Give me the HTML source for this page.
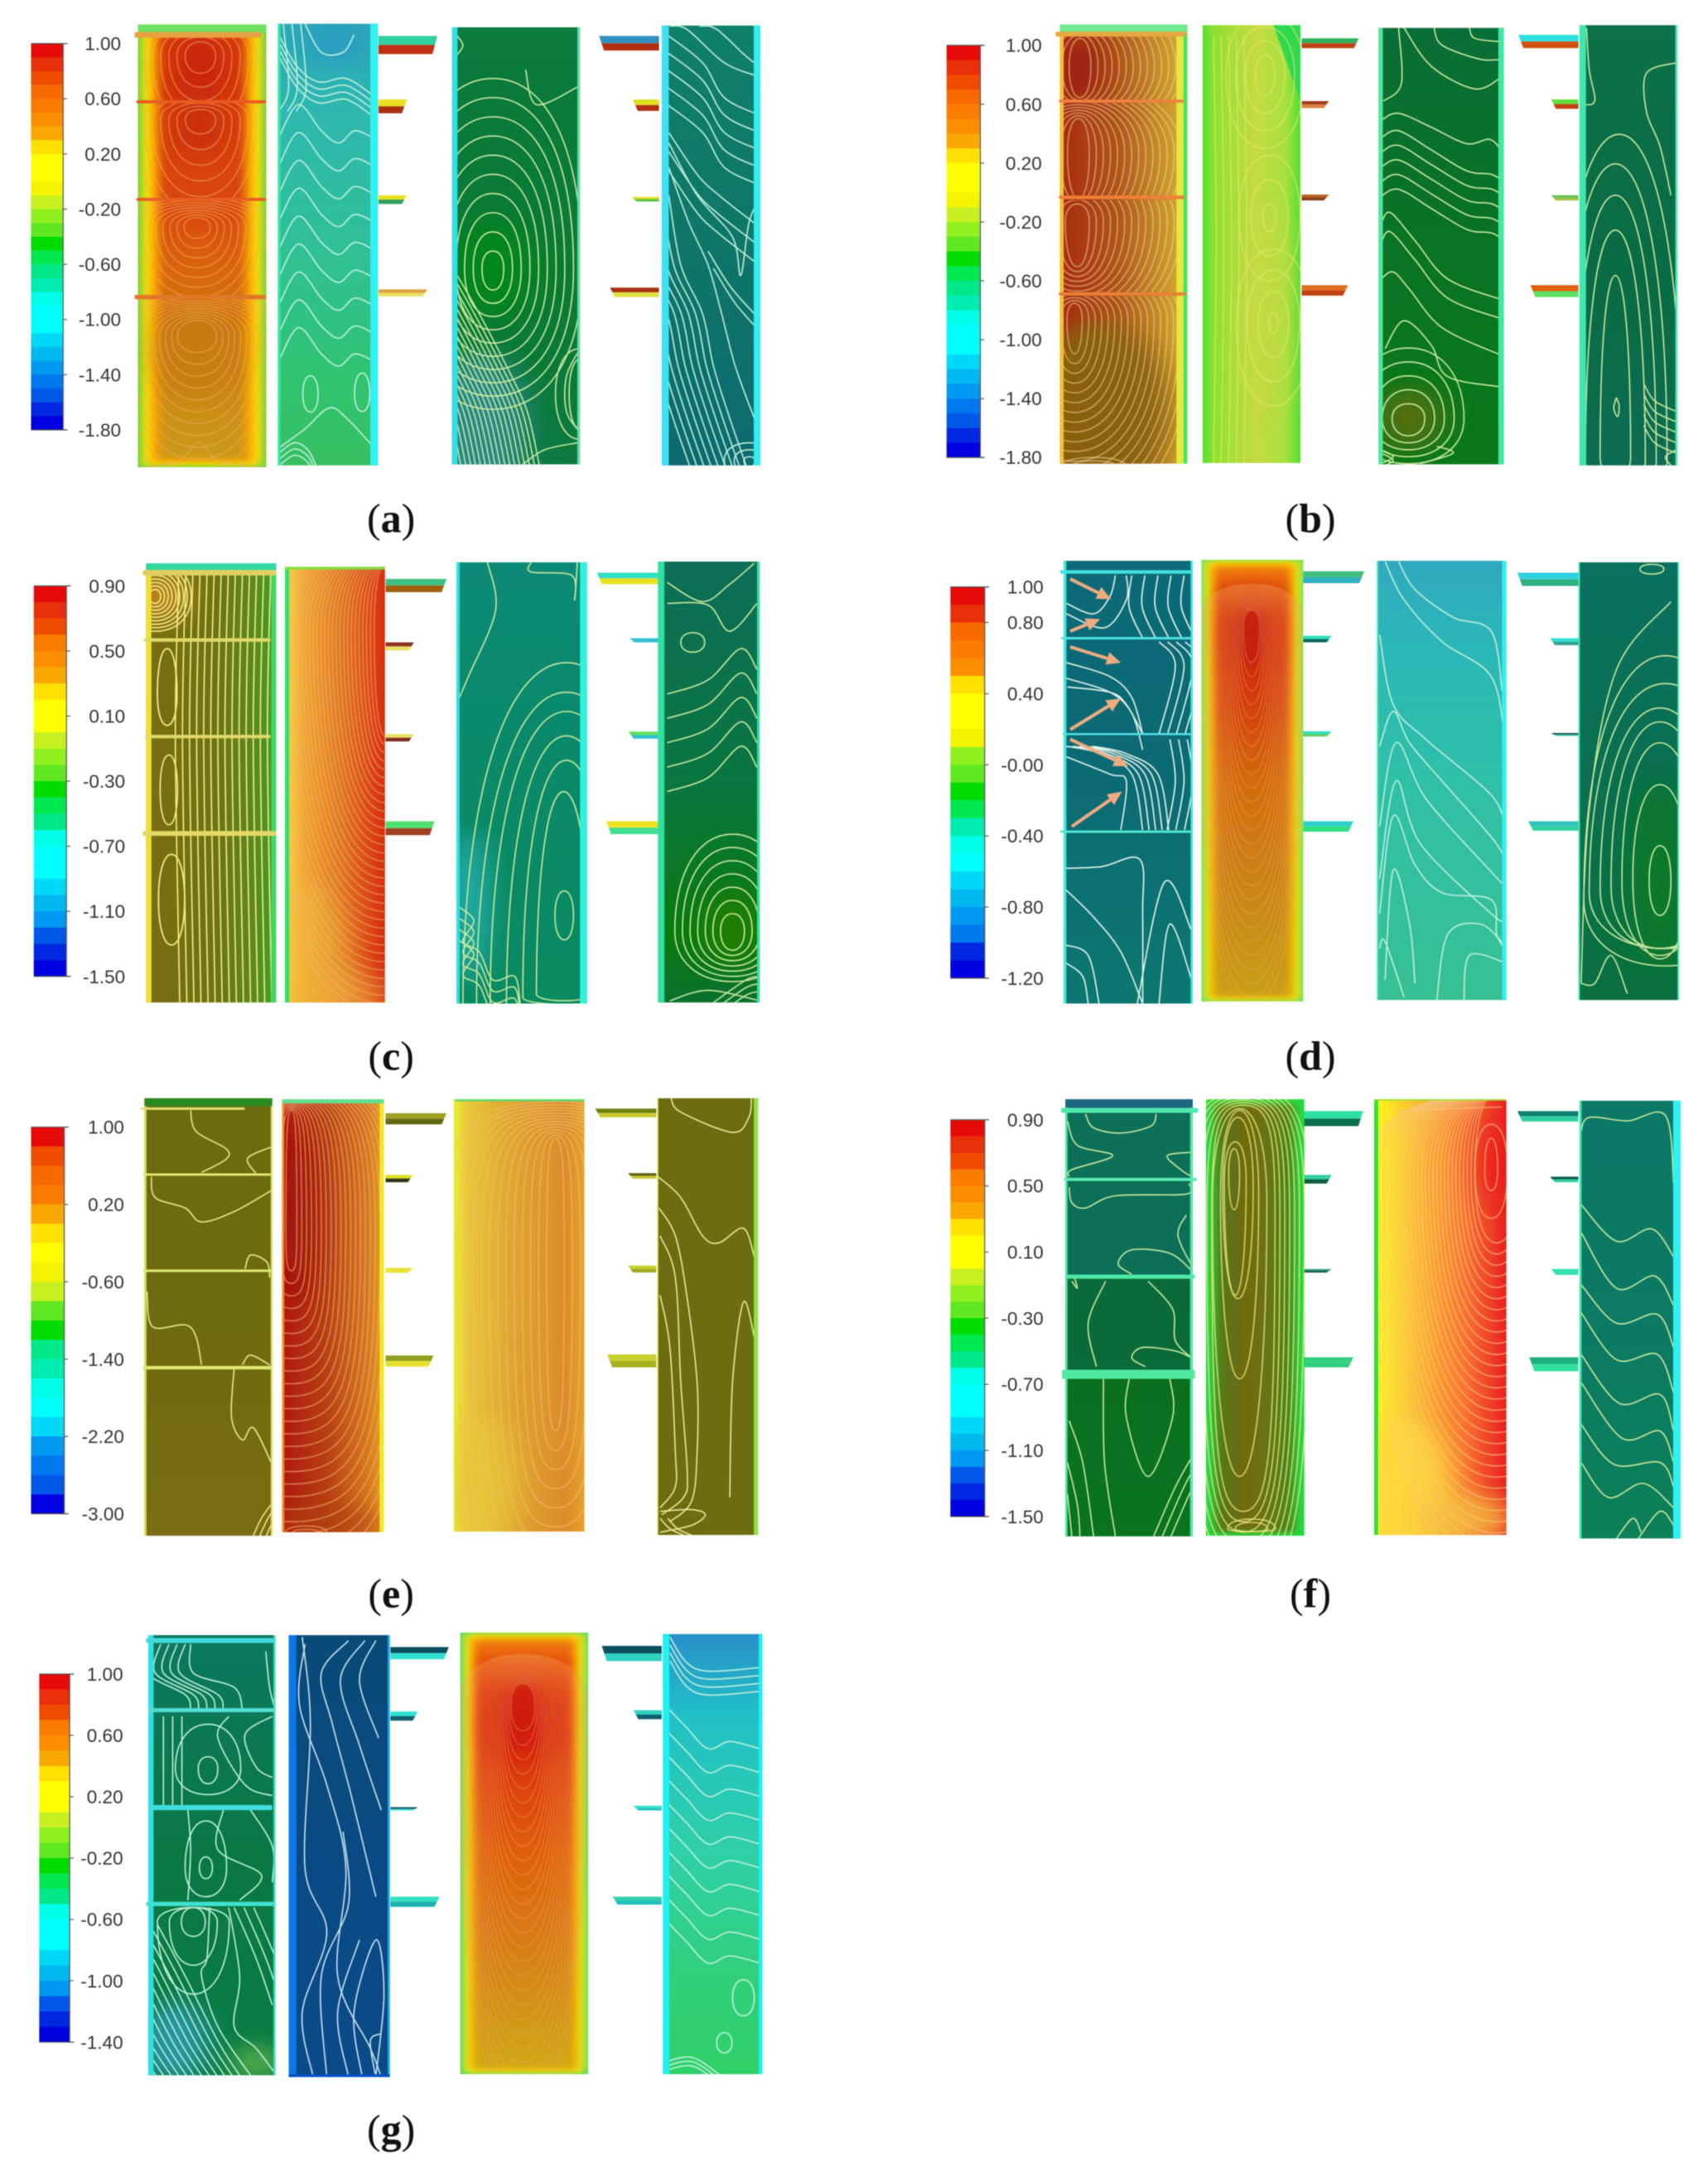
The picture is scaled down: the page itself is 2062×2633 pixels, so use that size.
<!DOCTYPE html>
<html lang="en">
<head>
<meta charset="utf-8">
<title>Contour panels</title>
<style>
html,body{margin:0;padding:0;background:#fff;}
svg{display:block;filter:blur(.5px);}
</style>
</head>
<body>
<svg id="root" xmlns="http://www.w3.org/2000/svg" width="2062" height="2633" viewBox="0 0 2062 2633">
<defs id="defs">
<filter id="blur1" x="-20%" y="-20%" width="140%" height="140%"><feGaussianBlur stdDeviation="8"/></filter>
<filter id="blur2" x="-300%" y="-150%" width="700%" height="400%"><feGaussianBlur stdDeviation="28"/></filter>
</defs>
</svg>
<script>
// Colour scale bands, top to bottom
const bandColors=['#e60a08','#e8300a','#f04c00','#f86a00','#fa7c00','#fb8e00','#f8a800','#ffe000','#ffff00','#ffff00','#f4f400','#c8f020','#90f020','#60e820','#00dc00','#00e850','#00e888','#00ecb0','#00ffe8','#00ffff','#00ffff','#00d8f8','#00b8f0','#0098f0','#0078f0','#0058e8','#0028e0','#0000e0'];
// Tick labels per sub-figure
const ticksA=['1.00','0.60','0.20','-0.20','-0.60','-1.00','-1.40','-1.80'];
const ticksB=['1.00','0.60','0.20','-0.20','-0.60','-1.00','-1.40','-1.80'];
const ticksC=['0.90','0.50','0.10','-0.30','-0.70','-1.10','-1.50'];
const ticksD=['1.00','0.80','0.40','-0.00','-0.40','-0.80','-1.20'];
const ticksE=['1.00','0.20','-0.60','-1.40','-2.20','-3.00'];
const ticksF=['0.90','0.50','0.10','-0.30','-0.70','-1.10','-1.50'];
const ticksG=['1.00','0.60','0.20','-0.20','-0.60','-1.00','-1.40'];

const SX=.6575;
const NS='http://www.w3.org/2000/svg';
const root=document.getElementById('root');
const defs=document.getElementById('defs');
let uid=0;
function mk(tag,attrs,parent){
  const e=document.createElementNS(NS,tag);
  for(const k in attrs)e.setAttribute(k,attrs[k]);
  if(parent)parent.appendChild(e);
  return e;
}
function grad(dir,stops){
  const id='g'+(uid++);
  const a={id:id,x1:0,y1:0,x2:dir==='v'?0:1,y2:dir==='h'?0:1};
  const g=mk('linearGradient',a,defs);
  stops.forEach(s=>mk('stop',{offset:s[0],'stop-color':s[1]},g));
  return 'url(#'+id+')';
}
function L(cx,cy,n,r0,dr,t0,dt,b0,db,c,k){return {L:[cx,cy,n,r0,dr,t0,dt,b0,db],c:c,k:k};}
function W(pts,dx,dy,n,c){return {W:pts,dx:dx||0,dy:dy||0,n:n||1,c:c};}
function loopPath(cx,cy,r,t,b,k){
  const f=n=>n.toFixed(1);
  return 'M'+f(cx)+' '+f(cy-t)+'C'+f(cx+r*k)+' '+f(cy-t)+' '+f(cx+r)+' '+f(cy-t*k)+' '+f(cx+r)+' '+f(cy)
   +'C'+f(cx+r)+' '+f(cy+b*k)+' '+f(cx+r*k)+' '+f(cy+b)+' '+f(cx)+' '+f(cy+b)
   +'C'+f(cx-r*k)+' '+f(cy+b)+' '+f(cx-r)+' '+f(cy+b*k)+' '+f(cx-r)+' '+f(cy)
   +'C'+f(cx-r)+' '+f(cy-t*k)+' '+f(cx-r*k)+' '+f(cy-t)+' '+f(cx)+' '+f(cy-t)+'Z';
}
function smooth(p){
  let d='M'+p[0][0]+' '+p[0][1];
  for(let i=0;i<p.length-1;i++){
    const a=p[Math.max(0,i-1)],b=p[i],c=p[i+1],e=p[Math.min(p.length-1,i+2)];
    d+='C'+(b[0]+(c[0]-a[0])/6).toFixed(1)+' '+(b[1]+(c[1]-a[1])/6).toFixed(1)+' '
      +(c[0]-(e[0]-b[0])/6).toFixed(1)+' '+(c[1]-(e[1]-b[1])/6).toFixed(1)+' '+c[0]+' '+c[1];
  }
  return d;
}
function P(x0,x1,y0,y1,o){return Object.assign({x0:x0,x1:x1,y0:y0,y1:y1},o);}

const lg='#c9e8a0',lh='#f4a85c',lc='#bdf0dc',lw='#e4f4ec',ly='#e8e880',lb='#c8e4f0';

const figs=[
{id:'a',ox:0,oy:0,sy:.4209,bar:[57,116,125,1233],n:28,ticks:ticksA,end:222,cap:[718,1526],
 panels:[
 P(253,489,70,1340,{fr:[[0,'#60d040'],[8,'#ffe800'],[24,'#f8a000']],ins:40,bg:['v',[0,'#d83a10'],[.4,'#d8460f'],[.55,'#da6410'],[.75,'#cf8012'],[1,'#c89a18']],lo:.55,
  bl:[[368,190,50,100,'#c82010',.9],[365,350,45,100,'#c62a10',.8],[362,1000,80,140,'#bf7a10',.6]],lc:lh,top:[96,'#70e060'],
  bd:[[100,16,'#e8a040',247,480],[292,9,'#e85a20',250,489],[572,9,'#e86020',250,489],[852,13,'#e07828',247,489]],
  F:[L(368,160,7,28,15,40,14,50,40,[108,288],.6),L(368,342,8,28,15,28,9,42,45,[296,568],.6),L(362,650,10,24,13,26,7,34,28,[576,848],.6),L(362,965,15,36,11,46,7,46,34,[858,1340],.6),W([[270,1340],[330,1320],[365,1270],[400,1320],[470,1340]],0,18,1)]}),
 P(510,694,68,1335,{bg:['v',[0,'#2ca8b8'],[.2,'#2eb8b0'],[.5,'#30c098'],[.8,'#30c470'],[1,'#38c060']],ed:[['r',14,'#30f0f0'],['l',5,'#30e8a0']],
  bl:[[620,130,60,60,'#2c98c8',.7]],lc:lc,
  F:[W([[512,100],[545,190],[585,235],[635,225],[682,270]],0,20,4),W([[560,68],[590,150],[630,150],[650,100]],0,0,1),W([[512,395],[548,300],[590,375],[622,410],[652,375],[690,400]],0,80,9),W([[520,68],[530,250],[512,320]],16,0,3),L(570,1130,1,14,0,52,0,52,0),L(665,1130,1,14,0,60,0,50,0),W([[512,1285],[560,1230],[605,1170],[640,1205],[690,1290]]),W([[512,1300],[540,1270],[565,1290],[580,1335]],0,18,3)]}),
 P(830,1065,78,1332,{bg:['v',[0,'#0a7a3e'],[.6,'#0a7a34'],[1,'#0c7a40']],bl:[[905,770,70,140,'#068a18',.8],[880,1230,90,220,'#2a8a90',.9]],ed:[['l',10,'#30e0e8'],['r',5,'#60e0a0']],lc:lg,
  F:[L(905,770,10,20,16,50,55,62,38,null,.62),W([[965,200],[985,300],[1060,250]]),W([[832,770],[880,900],[930,1050],[968,1180],[990,1332]],-9,0,18),W([[1065,1000],[1040,1080],[1040,1180],[1065,1240]],0,0,1),L(1065,1130,2,20,25,100,30,100,30),W([[838,100],[850,130],[838,160]]),W([[960,1332],[1000,1290],[1060,1270]],0,0,1)]}),
 P(1215,1396,73,1335,{bg:['v',[0,'#10806a'],[.5,'#0f7668'],[1,'#0c6a70']],ed:[['l',13,'#40e0f4'],['r',12,'#30f0f0']],lc:lc,
  F:[W([[1225,100],[1290,180],[1330,280],[1394,330]],0,50,5),W([[1230,75],[1262,85],[1330,180],[1394,220]],55,0,2),W([[1228,380],[1280,500],[1320,560],[1385,640]],0,55,3),W([[1228,410],[1280,560],[1345,680],[1360,790],[1375,640],[1394,570]],0,0,1),W([[1228,480],[1265,640],[1300,760],[1325,900],[1350,1050],[1385,1200]],0,0,1),W([[1228,560],[1250,760],[1290,900],[1310,1050],[1340,1200],[1370,1335]],-13,0,9),W([[1300,720],[1340,820],[1385,900]],10,50,2),L(1376,1320,3,10,18,10,20,20,20)]})
 ],
 fins:[[695,108,103,155,'#30d0a0','#c03010'],[695,52,285,325,'#e8e020','#a83010'],[695,52,560,585,'#e8e020','#30a060'],[695,90,830,850,'#e0a040','#e8e060'],[1210,-110,103,145,'#3090c0','#b03010'],[1210,-48,285,318,'#e0e020','#b03010'],[1210,-50,565,578,'#e0e020','#50c040'],[1210,-90,825,852,'#a83010','#e0e040']]},
{id:'b',ox:1031,oy:0,sy:.4209,bar:[170,232,130,1312],n:28,ticks:ticksB,end:345,cap:[838,1526],
 panels:[
 P(378,612,70,1330,{bg:['h',[0,'#a82a10'],[.45,'#b0541a'],[.8,'#c89028'],[1,'#d8b030']],ed:[['l',7,'#f8c030'],['r',20,'#e4e840'],['r',7,'#40e860']],bl:[[450,1180,130,260,'#886410',.95],[420,200,30,90,'#981408',.8]],lc:'#f0d8a0',lo:.55,top:[94,'#70e890'],
  bd:[[98,14,'#e8a840',370,610],[290,9,'#f08040',376,606],[566,10,'#f08038',376,608],[843,10,'#e88038',376,610]],
  F:[L(415,190,14,20,13,80,10,90,8,[105,285],.6),L(412,440,14,20,13,100,8,130,12,[296,560],.6),L(410,635,14,22,13,50,12,130,14,[574,838],.6),L(405,915,18,14,12,45,8,100,28,[850,1330],.6),L(440,1340,3,25,18,8,10,8,0)]}),
 P(640,820,72,1328,{bg:['h',[0,'#50e030'],[.12,'#90e030'],[.55,'#c4dc40'],[.85,'#a8e040'],[1,'#50e030']],lc:'#e8e870',lo:.6,
  bl:[[760,900,40,300,'#c8d840',.6]],wedge:[[770,72],[820,72],[820,290]],
  F:[L(755,215,4,18,18,58,40,60,50),L(763,620,3,12,22,35,70,45,70),L(770,925,4,8,20,30,60,30,70),W([[660,100],[665,700],[660,1328]],14,0,5)]}),
 P(963,1193,80,1332,{bg:['v',[0,'#0a6e38'],[.4,'#0a7228'],[1,'#0a7a18']],bl:[[1020,1200,60,90,'#5a7010',.9]],ed:[['l',8,'#50e8a0'],['r',10,'#40e8a0']],lc:lg,
  F:[W([[968,345],[1000,325],[1060,365],[1125,412],[1168,400],[1192,440]],0,0,1),W([[968,395],[1000,375],[1060,430],[1125,490],[1170,500],[1192,520]],0,42,5),W([[968,640],[985,610],[1030,690],[1090,800],[1190,860]],0,55,2),W([[968,800],[990,780],[1020,830],[1080,940],[1190,1020]],0,0,1),W([[975,1000],[1010,920],[1060,990],[1090,1080],[1190,1110]],0,0,1),L(1018,1200,5,30,18,42,40,50,20),W([[1065,80],[1080,130],[1150,170],[1190,170]]),W([[1130,80],[1140,110],[1190,120]]),W([[1010,80],[1060,190],[1140,255],[1190,220]]),W([[972,290],[1005,240],[1000,80]]),W([[968,1290],[990,1310],[968,1330]],0,10,2),W([[1040,1330],[1100,1300],[1070,1280]])]}),
 P(1332,1512,72,1335,{bg:['v',[0,'#0c7048'],[.6,'#0a6c44'],[1,'#0c6c54']],ed:[['l',12,'#40e8b0'],['r',4,'#40e8b0']],lc:lg,
  F:[L(1398,1310,1,28,0,520,0,60,0),L(1398,1330,1,55,0,670,0,20,0),L(1398,1330,1,75,0,770,0,20,0),L(1398,1330,1,95,0,860,0,20,0),L(1405,1330,1,115,0,945,0,20,0),W([[1345,80],[1350,200],[1360,290],[1335,300]]),W([[1510,180],[1455,210],[1455,320],[1480,420],[1500,560]]),W([[1400,1140],[1395,1170],[1402,1195],[1405,1165],[1400,1140]]),W([[1450,1100],[1470,1150],[1510,1180]],0,30,5),W([[1510,1290],[1490,1310],[1500,1335]])]})
 ],
 fins:[[822,105,110,138,'#30b060','#c04010'],[822,50,290,310,'#a04020','#e08040'],[822,50,558,575,'#b86020','#8a4020'],[822,85,818,848,'#e07020','#c04010'],[1330,-110,100,138,'#30e0e0','#d05010'],[1330,-50,285,312,'#60e040','#c04010'],[1330,-50,560,575,'#60c050','#a0c040'],[1330,-88,818,852,'#e06010','#60e060']]},
{id:'c',ox:0,oy:640,sy:.4209,bar:[62,122,160,1280],n:24,ticks:ticksC,end:230,cap:[718,1548],
 panels:[
 P(268,507,95,1355,{bg:['h',[0,'#7a6c10'],[.55,'#6e7412'],[.85,'#5a8a20'],[1,'#40a030']],ed:[['l',10,'#f0e030'],['r',9,'#40d860']],bl:[[300,190,40,70,'#d08a20',.9]],lc:'#f4ee88',top:[114,'#30d8a0'],
  bd:[[122,16,'#e0d060',262,507],[315,10,'#e0d868',264,497],[592,10,'#e0d868',266,497],[870,14,'#e4d868',262,507]],
  F:[W([[328,128],[322,600],[330,1355]],13,0,14),L(307,470,2,18,0,130,0,90,0,[320,590]),L(310,745,1,16,0,100,0,100,0),L(315,1060,2,24,0,130,0,130,0,[878,1355]),L(285,190,9,10,7,20,10,20,10,[130,310])]}),
 P(523,707,105,1355,{bg:['h',[0,'#ffd840'],[.18,'#f0a830'],[.6,'#e07020'],[1,'#d82c10']],ed:[['l',8,'#30e070'],['t',8,'#80e040']],bl:[[560,1250,80,240,'#f0c040',.5],[640,1350,70,90,'#f0b040',.5]],lc:'#f4b878',lo:.5,
  F:[L(707,290,34,20,7,190,4,300,24,null,.62)]}),
 P(838,1078,92,1358,{bg:['v',[0,'#0c8a78'],[.5,'#0a8a68'],[1,'#0a8a60']],bl:[[862,1080,30,220,'#2ab4b8',.95]],ed:[['l',6,'#30e0e0'],['r',13,'#30f0e0']],lc:lg,
  F:[L(1036,1105,1,17,0,70,0,70,0),L(1035,1330,1,50,0,580,0,20,0),L(1040,1340,1,80,0,680,0,20,0),L(1040,1360,1,110,0,770,0,20,0),L(1040,1360,1,140,0,840,0,20,0),L(1040,1360,1,165,0,895,0,20,0),L(1040,1360,1,190,0,980,0,20,0),W([[1060,92],[1055,200],[1050,130],[975,120],[975,92]]),W([[895,92],[910,230],[860,420],[838,500]]),W([[842,1080],[870,1120],[850,1180],[880,1210],[905,1290],[945,1280],[955,1358]],0,32,4)]}),
 P(1208,1395,90,1355,{bg:['v',[0,'#0c6e58'],[.5,'#0a7640'],[.85,'#0a7a10'],[1,'#0a7030']],bl:[[1345,1140,50,110,'#208000',.9]],ed:[['l',12,'#30e0a0'],['r',5,'#30e0a0']],lc:lg,
  F:[L(1345,1150,7,22,14,50,38,55,15),L(1272,322,1,22,0,28,0,28,0),W([[1225,150],[1290,205],[1340,155],[1385,95]]),W([[1225,210],[1300,215],[1340,290],[1390,210]]),W([[1225,470],[1300,430],[1360,340],[1390,400]],0,70,5),W([[1230,1350],[1300,1320],[1395,1350]]),W([[1310,1355],[1370,1290],[1395,1280]],0,22,3)]})
 ],
 fins:[[708,112,140,178,'#40c080','#a06010'],[708,52,322,345,'#903020','#e8e060'],[708,52,585,606,'#e8e060','#803020'],[708,90,835,875,'#50e070','#a04020'],[1208,-112,122,155,'#30e0c0','#e8e020'],[1208,-52,310,322,'#30c0d0','#30c0d0'],[1208,-54,578,598,'#60e060','#30c0d0'],[1208,-95,835,872,'#f0e020','#40e090']]},
{id:'d',ox:1031,oy:640,sy:.4209,bar:[177,240,163,1285],n:22,ticks:ticksD,end:348,cap:[838,1548],
 panels:[
 P(385,622,88,1358,{bg:['v',[0,'#0c6a78'],[.5,'#0c6a74'],[1,'#0c7870']],ed:[['l',5,'#40e8e0'],['r',4,'#40e8e0']],lc:lw,
  bd:[[120,10,'#40e0e0',378,622],[310,7,'#50e0e0',380,622],[585,6,'#50e0e0',382,622],[865,7,'#50e8d0',378,622]],
  F:[W([[510,130],[505,220],[530,310]],24,0,5),W([[390,210],[440,240],[470,190],[480,130]],0,0,1),W([[390,240],[460,280],[500,200],[500,130]]),W([[390,380],[470,420],[510,480],[530,585]],0,45,2),W([[560,320],[590,390],[560,585]],16,0,4),W([[392,450],[470,465],[500,500],[530,585]]),W([[390,620],[450,640],[510,700],[530,860]],12,0,5),W([[390,650],[470,700],[500,720],[490,860]]),W([[580,600],[590,720],[575,860]],16,0,3),W([[388,970],[455,965],[525,945],[530,1100],[530,1358]]),W([[388,1030],[440,1110],[490,1210],[530,1358]]),W([[520,1358],[570,1010],[620,1150]]),W([[560,1358],[580,1130],[622,1300]]),W([[388,1190],[430,1220],[450,1358]]),W([[388,1240],[420,1280],[430,1358]])],
  arrows:[[397,140,472,198],[397,290,452,255],[397,335,490,380],[397,572,490,483],[397,600,503,677],[400,850,492,750]]}),
 P(638,825,85,1352,{fr:[[0,'#60e060'],[6,'#e8f020'],[14,'#f8c000']],ins:24,bg:['v',[0,'#f08010'],[.05,'#e45010'],[.14,'#d83010'],[.3,'#d43a10'],[.5,'#d46a10'],[.8,'#c88a14'],[1,'#c8a014']],bl:[[730,290,36,120,'#c01810',.9]],lc:lh,lo:.35,
  F:[L(730,280,26,15,3.4,50,3,100,40,null,.62)]}),
 P(960,1198,88,1348,{bg:['v',[0,'#30a8c0'],[.2,'#2cb8b8'],[.5,'#30c0a8'],[1,'#38c094']],ed:[['r',8,'#30f0f0'],['l',3,'#40e8c0']],lc:lc,
  F:[W([[1000,90],[1030,170],[1100,250],[1170,290],[1190,460]],0,0,1),W([[975,90],[1010,200],[1080,320],[1170,420],[1195,600]],0,0,1),W([[965,300],[990,500],[1050,600],[1170,760],[1195,850]],0,0,1),W([[965,620],[990,520],[1020,610],[1080,720],[1170,880],[1195,940]]),W([[965,850],[995,610],[1050,770],[1170,980],[1195,1020]],0,0,1),W([[965,1000],[995,720],[1040,900],[1170,1100],[1195,1120]]),W([[965,1100],[990,820],[1030,960],[1080,1040],[1170,1060],[1180,1160],[1195,1200]]),W([[975,1290],[990,975],[1020,1130],[1030,1300]]),W([[965,1200],[975,1180],[1010,1340]]),W([[1070,1348],[1090,1160],[1150,1130],[1195,1190]]),W([[1120,1348],[1130,1220],[1195,1240]])]}),
 P(1330,1515,92,1348,{bg:['v',[0,'#0a7060'],[.5,'#0a7050'],[1,'#0a7040']],bl:[[1475,1000,50,280,'#0a7a28',.9]],ed:[['l',3,'#40e8b0'],['r',3,'#40e8b0']],lc:lg,
  F:[L(1480,1005,1,20,0,100,0,100,0),L(1480,1000,1,50,0,270,0,230,0),L(1480,1010,1,70,0,400,0,210,0),L(1480,1020,1,90,0,470,0,180,0),L(1480,1030,1,110,0,520,0,170,0),L(1490,1040,1,140,0,600,0,160,0),L(1490,1060,1,150,0,700,0,190,0),W([[1335,1300],[1350,800],[1400,400],[1500,205]]),W([[1335,1300],[1360,1300],[1390,1220],[1420,1330]]),L(1465,112,1,22,0,14,0,14,0)]})
 ],
 fins:[[825,112,118,152,'#40c080','#30b0c0'],[825,52,303,322,'#30e0c0','#106860'],[825,52,577,592,'#30e0c0','#60d060'],[825,92,835,865,'#30d0d0','#30e080'],[1330,-112,122,160,'#30d0e0','#30b080'],[1330,-52,310,330,'#30e0d0','#30a090'],[1330,-50,582,590,'#104040','#30c0a0'],[1330,-92,835,862,'#30c0c0','#30d0a0']]},
{id:'e',ox:0,oy:1290,sy:.4209,bar:[57,118,168,1277],n:20,ticks:ticksE,end:228,cap:[718,1545],
 panels:[
 P(265,500,85,1340,{bg:['v',[0,'#6c6c10'],[.5,'#6e6a10'],[1,'#7a6c14']],ed:[['l',4,'#d8e040'],['r',3,'#d8e040']],lc:'#e8e890',top:[108,'#2a8a20'],
  bd:[[115,7,'#e0e070',258,450],[304,7,'#dce870',262,500],[580,7,'#dce870',262,500],[858,10,'#dce870',262,500]],
  F:[W([[350,120],[360,180],[415,230],[415,260],[370,298]]),W([[498,225],[460,250],[455,270],[470,300]]),W([[278,310],[285,370],[340,400],[370,440],[430,410],[498,350]]),W([[450,575],[460,535],[490,555],[495,600]]),W([[270,640],[280,740],[340,735],[360,770],[370,850]]),W([[430,860],[425,1000],[445,1065],[465,1030],[498,1130]]),W([[445,850],[460,822],[495,850]]),W([[465,1340],[480,1290],[498,1250]],12,0,3)]}),
 P(518,705,88,1330,{bg:['h',[0,'#b01810'],[.45,'#b84014'],[.85,'#d87a20'],[1,'#e8a020']],ed:[['r',8,'#f0e828'],['l',4,'#f89020'],['t',12,'#60e090']],bl:[[545,420,25,260,'#981008',.8],[600,1300,100,50,'#b04010',.7]],lc:'#f0b070',lo:.6,
  F:[L(535,460,24,10,9,340,4,120,36,null,.8),L(562,1330,2,24,14,8,10,8,0)]}),
 P(833,1073,88,1328,{bg:['h',[0,'#ecf030'],[.1,'#e8c838'],[.45,'#e0a430'],[.85,'#dc8c2c'],[1,'#e8a028']],ed:[['t',6,'#60d870'],['l',3,'#d8f040']],lc:'#f0c070',lo:.6,bl:[[880,1200,70,200,'#e8c838',.7]],
  F:[L(1020,540,14,16,15,340,8,500,55,null,.8)]}),
 P(1207,1392,85,1338,{bg:['v',[0,'#6c6c10'],[1,'#6c6c10']],ed:[['r',8,'#90e040'],['l',2,'#d8e040']],lc:'#e8e8a0',
  F:[W([[1232,85],[1250,125],[1345,183],[1375,140],[1380,85]]),W([[1208,310],[1250,370],[1290,480],[1320,500],[1365,458],[1385,540]]),W([[1210,400],[1240,480],[1260,640],[1280,900],[1280,1100],[1270,1240],[1230,1300]]),W([[1212,480],[1240,600],[1250,900],[1262,1160],[1255,1230],[1215,1280]]),W([[1212,650],[1230,800],[1240,1100],[1240,1200],[1212,1260]]),W([[1340,1230],[1345,900],[1365,670],[1385,770]]),W([[1212,1270],[1270,1265],[1295,1280],[1270,1310],[1212,1330]]),W([[1212,1290],[1230,1320],[1255,1338]],14,0,2)]})
 ],
 fins:[[708,112,128,160,'#a0a020','#606810'],[708,50,305,326,'#e0e020','#303810'],[708,50,572,586,'#e8e030','#e8e030'],[708,88,823,855,'#90a020','#e8e030'],[1205,-112,115,140,'#708010','#c8c830'],[1205,-52,300,316,'#606810','#c8c830'],[1205,-52,565,585,'#c8d030','#a0a820'],[1205,-90,820,857,'#c8d030','#a8b020']]},
{id:'f',ox:1031,oy:1290,sy:.4209,bar:[177,240,147,1285],n:24,ticks:ticksF,end:348,cap:[838,1545],
 panels:[
 P(388,622,88,1342,{bg:['v',[0,'#0c7058'],[.4,'#0c7058'],[.41,'#0a6a3c'],[.62,'#0a6c38'],[.63,'#0a7020'],[1,'#0a7420']],ed:[['l',4,'#50e8a0'],['r',5,'#50e8a0']],lc:lg,top:[112,'#1a6880'],
  bd:[[120,14,'#50e8b0',380,632],[318,9,'#60e8b8',385,630],[597,12,'#50e8a8',388,626],[877,26,'#50e8a0',382,626]],
  F:[W([[425,130],[440,170],[490,185],[545,165],[555,130]]),W([[392,150],[410,220],[475,250],[400,290],[395,310]]),W([[620,240],[575,250],[600,290],[620,310]]),W([[395,340],[400,385],[425,400],[480,365],[610,360],[615,330]]),W([[620,580],[580,530],[510,520],[485,560],[510,590]]),W([[610,420],[595,480],[625,580]]),W([[400,610],[410,630],[405,600]]),W([[462,610],[430,730],[445,855]]),W([[540,610],[585,690],[590,780],[620,830]]),W([[620,830],[590,810],[530,800],[510,830],[535,855]]),W([[505,890],[500,1000],[540,1170],[585,1000],[580,890]]),W([[458,890],[460,1130],[480,1342]]),W([[395,1010],[420,1130],[440,1342]]),W([[392,1130],[410,1250],[415,1342]]),W([[392,1220],[400,1342]]),W([[550,1342],[590,1200],[622,1110]],16,0,3)]}),
 P(646,827,88,1340,{fr:[[0,'#20e040'],[8,'#30d040']],ins:18,bg:['h',[0,'#507a18'],[.35,'#706a10'],[.6,'#6e7012'],[1,'#408a20']],lc:ly,lo:.8,
  F:[L(698,300,1,10,0,70,0,105,0),L(700,320,1,20,0,110,0,330,0),L(705,340,1,28,0,200,0,320,0),L(708,360,1,35,0,240,0,530,0),L(708,380,1,50,0,265,0,790,0),L(715,420,8,58,9,315,7,850,30,null,.8),L(730,1320,2,30,14,18,10,8,0)]}),
 P(955,1198,88,1338,{bg:['h',[0,'#70f030'],[.05,'#fff020'],[.3,'#fcc030'],[.7,'#f87030'],[1,'#e82020']],ed:[['l',7,'#30e030'],['t',4,'#a0e030']],bl:[[1000,1220,100,220,'#ffd840',.85],[1120,1290,90,70,'#f4c040',.8],[1170,270,22,130,'#e81818',.9]],lc:'#f8c880',lo:.6,
  F:[L(1170,290,2,12,18,90,40,60,80,null,.62),L(1180,300,30,40,7,230,0,200,32,null,.62),W([[990,120],[1190,110]],0,0,1)]}),
 P(1332,1518,92,1348,{bg:['v',[0,'#0c7868'],[.5,'#0c7a64'],[1,'#0c8058']],ed:[['r',14,'#30f0f0'],['l',4,'#40e8b0']],lc:lg,
  F:[W([[1335,180],[1350,140],[1420,150],[1490,135],[1505,330]]),W([[1335,390],[1400,495],[1465,460],[1505,540]]),W([[1335,470],[1400,630],[1470,595],[1505,680]]),W([[1335,620],[1400,730],[1475,705],[1505,800]]),W([[1335,700],[1400,835],[1475,820],[1505,930]]),W([[1335,820],[1405,960],[1480,935],[1505,1040]]),W([[1335,900],[1410,1060],[1480,1040],[1505,1130]]),W([[1335,1020],[1395,1135],[1480,1130],[1505,1200]]),W([[1335,1130],[1385,1230],[1450,1190],[1505,1260]]),W([[1400,1348],[1430,1290],[1445,1330]]),W([[1440,1348],[1480,1270],[1505,1310]])]})
 ],
 fins:[[825,110,122,165,'#30e0a0','#0c7050'],[825,52,305,330,'#30d0a0','#0c6040'],[825,52,575,585,'#30a080','#0c5040'],[825,92,828,857,'#30d080','#30d080'],[1330,-112,122,152,'#108070','#30d0a0'],[1330,-52,310,326,'#0c6050','#30d0a0'],[1330,-50,575,592,'#30e0b0','#30e0b0'],[1330,-90,828,868,'#20b080','#30e0a0']]},
{id:'g',ox:0,oy:1950,sy:.4356,bar:[72,128,163,1183],n:24,ticks:ticksG,end:226,cap:[718,1464],
 panels:[
 P(272,506,55,1275,{bg:['v',[0,'#0c7860'],[.5,'#0a7844'],[1,'#0a7c44']],ed:[['l',10,'#30e0e0'],['r',4,'#40e0c0']],bl:[[320,1180,60,110,'#2a9ab0',.9],[470,1240,40,50,'#70c050',.8]],lc:lc,
  bd:[[70,14,'#40d8d8',268,506],[263,11,'#50e0d0',272,505],[533,14,'#40e0e0',272,500],[800,12,'#40e0d0',268,506]],
  F:[L(382,425,2,18,42,33,90,42,30,[270,528]),W([[350,80],[355,160],[430,200],[445,260]],0,0,1),W([[340,80],[330,160],[400,220],[410,260]],-15,0,5),W([[488,100],[495,200],[505,260]]),W([[300,280],[300,530]],17,0,3),W([[420,280],[400,340],[450,470],[500,500]]),W([[500,280],[450,330],[470,420],[500,450]]),L(378,700,2,12,26,30,100,30,50,[540,795]),W([[345,540],[350,650],[345,790]]),W([[410,540],[400,650],[480,720],[440,790]]),W([[460,540],[500,640],[500,740]]),L(355,850,3,22,22,40,0,40,80,[808,1275]),W([[385,810],[380,950],[370,1000],[400,1140],[460,1275]]),W([[290,860],[340,1000],[400,1180],[440,1275]],-14,0,18),W([[430,810],[470,950],[500,1080]],18,0,3),W([[420,810],[440,1000],[430,1140],[470,1200],[505,1270]],0,0,1)]}),
 P(530,716,55,1280,{bg:['v',[0,'#0a4a78'],[.5,'#0a4a84'],[1,'#0a4a88']],ed:[['l',14,'#0a78e8'],['r',4,'#20b0f0'],['b',8,'#0850c8']],lc:lb,
  F:[W([[560,80],[550,250],[600,470],[635,700],[620,1000],[680,1200],[700,1280]]),W([[640,70],[590,160],[610,300],[645,500],[690,780]]),W([[670,70],[625,180],[660,360],[700,540]]),W([[690,70],[660,180],[695,340]]),W([[575,1280],[555,1100],[600,880],[560,700],[570,300],[555,60]],20,0,1),W([[600,1280],[590,1000],[640,800],[630,600]]),W([[640,1280],[620,1100],[660,900]]),W([[665,1280],[650,1100],[690,900],[705,1050],[690,1280]]),W([[690,1280],[680,1180],[700,1160]])]}),
 P(845,1080,48,1272,{fr:[[0,'#50d860'],[7,'#ecf020'],[16,'#f8c000']],ins:26,bg:['v',[0,'#f08010'],[.05,'#e85010'],[.14,'#e03010'],[.22,'#dc2810'],[.5,'#e06010'],[.8,'#d48a14'],[1,'#d0a818']],bl:[[960,270,45,120,'#cc1810',.9]],lc:lh,lo:.35,
  F:[L(960,250,28,22,3.6,60,3,70,40,null,.62)]}),
 P(1217,1400,52,1272,{bg:['v',[0,'#2a90c8'],[.18,'#20c0c8'],[.5,'#30d0a8'],[.8,'#30d078'],[1,'#30d068']],ed:[['l',12,'#20f0f0'],['r',7,'#20f0f0']],lc:lc,
  F:[W([[1230,60],[1260,130],[1300,155],[1395,145]],0,22,4),W([[1228,260],[1260,310],[1300,370],[1340,350],[1395,370]],0,66,10),L(1365,1060,1,20,0,50,0,50,0),L(1330,1185,1,14,0,28,0,28,0),W([[1217,1240],[1270,1225],[1320,1272]],0,12,3)]})
 ],
 fins:[[717,107,88,122,'#0c5060','#30e0d0'],[717,50,267,292,'#30e0d0','#106070'],[717,50,532,541,'#0c4060','#30e0d0'],[717,90,780,808,'#30e0c0','#20b0b0'],[1215,-110,85,127,'#0c5060','#30d0c0'],[1215,-52,263,288,'#30d0c0','#106070'],[1215,-52,528,541,'#30e0d0','#20c0c0'],[1215,-90,780,802,'#30d0b0','#20c0c0']]}
];

function addClip(x,y,w,h){
  const id='c'+(uid++);
  const cp=mk('clipPath',{id:id},defs);
  mk('rect',{x:x,y:y,width:w,height:h},cp);
  return 'url(#'+id+')';
}

function drawColorbar(f,sx){
  const b=f.bar,x0=b[0],x1=b[1],y0=b[2],y1=b[3];
  const g=mk('g',{transform:'translate('+f.ox+' '+f.oy+') scale('+sx+' '+f.sy+')'},root);
  
  
  const n=f.n,h=(y1-y0)/n;
  for(let i=0;i<n;i++){
    const band=mk('rect',{x:x0,y:(y0+i*h).toFixed(2),width:x1-x0,height:(h+.6).toFixed(2),fill:bandColors[Math.floor((i+.5)/n*bandColors.length)]},g);
    
    
  }
  const vals=f.ticks.map(parseFloat);
  const vmax=vals[0],vmin=vals[vals.length-1];
  const yAxis=v=>y1-(v-vmin)/(vmax-vmin)*(y1-y0);
  mk('path',{d:'M'+x0+' '+y0+'H'+(x1+8)+'M'+x0+' '+y1+'H'+(x1+8)+'M'+x1+' '+y0+'V'+y1,stroke:'#555',fill:'none','stroke-width':1.2,'vector-effect':'non-scaling-stroke'},g);
  f.ticks.forEach((lab,i)=>{
    const yz=yAxis(vals[i]);
    mk('path',{d:'M'+x1+' '+yz+'H'+(x1+7),stroke:'#555','stroke-width':1.2,'vector-effect':'non-scaling-stroke'},g);
    const t=mk('text',{x:(f.ox+f.end*sx).toFixed(1),y:(f.oy+yz*f.sy+8).toFixed(1),'text-anchor':'end','font-family':'"Liberation Sans",sans-serif','font-size':'22.5',fill:'#333'},root);
    
    
    t.textContent=lab;
  });
}

function drawPanel(g,p,f,idx){
  const pg=mk('g',{},g);
  
  
  const w=p.x1-p.x0,h=p.y1-p.y0;
  const inner=mk('g',{'clip-path':addClip(p.x0,p.y0,w,h)},pg);
  const fill=grad(p.bg[0],p.bg.slice(1));
  if(p.fr){
    p.fr.forEach((fr,i)=>{
      const ins=fr[0];
      const a={x:p.x0+ins,y:p.y0+ins*.6,width:w-2*ins,height:h-ins*1.2,fill:fr[1]};
      if(i>0)a.filter='url(#blur1)';
      mk('rect',a,inner);
    });
    mk('rect',{x:p.x0+p.ins,y:p.y0+p.ins*.8,width:w-2*p.ins,height:h-p.ins*1.4,fill:fill,filter:'url(#blur1)'},inner);
  }else{
    mk('rect',{x:p.x0,y:p.y0,width:w,height:h,fill:fill},inner);
  }
  (p.bl||[]).forEach(b=>{
    mk('ellipse',{cx:b[0],cy:b[1],rx:b[2],ry:b[3],fill:b[4],opacity:b[5],filter:'url(#blur2)'},inner);
  });
  if(p.wedge)mk('polygon',{points:p.wedge.map(q=>q.join(',')).join(' '),fill:'#30d850'},inner);
  (p.F||[]).forEach(fam=>{
    let parent=inner;
    if(fam.c)parent=mk('g',{'clip-path':addClip(p.x0,fam.c[0],w,fam.c[1]-fam.c[0])},inner);
    const common={fill:'none',stroke:p.lc,'stroke-opacity':p.lo||1,'stroke-width':1.6,'vector-effect':'non-scaling-stroke'};
    if(fam.L){
      const a=fam.L,k=fam.k||.6;
      for(let i=0;i<a[2];i++){
        const path=mk('path',Object.assign({d:loopPath(a[0],a[1],a[3]+i*a[4],a[5]+i*a[6],a[7]+i*a[8],k)},common),parent);
        
        
      }
    }else{
      for(let i=0;i<fam.n;i++){
        const pts=fam.W.map(q=>[q[0]+i*fam.dx,q[1]+i*fam.dy]);
        const path=mk('path',Object.assign({d:smooth(pts)},common),parent);
        
        
      }
    }
  });
  (p.ed||[]).forEach(e=>{
    const s=e[0],t=e[1];
    const a=s==='l'?{x:p.x0,y:p.y0,width:t,height:h}:s==='r'?{x:p.x1-t,y:p.y0,width:t,height:h}:s==='t'?{x:p.x0,y:p.y0,width:w,height:t}:{x:p.x0,y:p.y1-t,width:w,height:t};
    a.fill=e[2];
    mk('rect',a,inner);
  });
  if(p.top)mk('rect',{x:p.x0,y:p.y0,width:w,height:p.top[0]-p.y0,fill:p.top[1]},inner);
  (p.bd||[]).forEach(b=>{
    const band=mk('rect',{x:b[3],y:b[0]-b[1]/2,width:b[4]-b[3],height:b[1],fill:b[2],rx:4},pg);
    
    
  });
  (p.arrows||[]).forEach(a=>{
    const dx=a[2]-a[0],dy=(a[3]-a[1])*f.sy/SX;
    const len=Math.hypot(dx,dy);
    const ux=dx/len,uy=dy/len;
    const hb=[a[2]-ux*26,a[3]-uy*26*SX/f.sy];
    const px=-uy*12,py=ux*12*SX/f.sy;
    const ar=mk('g',{},pg);
    
    
    mk('path',{d:'M'+a[0]+' '+a[1]+'L'+hb[0]+' '+hb[1],stroke:'#f0ac80','stroke-width':4,fill:'none','vector-effect':'non-scaling-stroke'},ar);
    mk('polygon',{points:a[2]+','+a[3]+' '+(hb[0]+px)+','+(hb[1]+py)+' '+(hb[0]-px)+','+(hb[1]-py),fill:'#f0ac80'},ar);
  });
}

function drawFin(g,fn){
  const base=fn[0],len=fn[1],y0=fn[2],y1=fn[3];
  const sl=len>0?-9:9;
  const ym=(y0+y1)/2;
  const fg=mk('g',{},g);
  
  
  mk('polygon',{points:[[base,y0],[base+len,y0],[base+len+sl/2,ym],[base,ym]].map(q=>q.join(',')).join(' '),fill:fn[4]},fg);
  mk('polygon',{points:[[base,ym],[base+len+sl/2,ym],[base+len+sl,y1],[base,y1]].map(q=>q.join(',')).join(' '),fill:fn[5]},fg);
}

figs.forEach(f=>{
  const sx=SX;
  const g=mk('g',{transform:'translate('+f.ox+' '+f.oy+') scale('+sx+' '+f.sy+')'},root);
  
  
  f.fins.forEach(fn=>drawFin(g,fn));
  f.panels.forEach((p,i)=>drawPanel(g,p,f,i));
  drawColorbar(f,sx);
  const cap=mk('text',{x:(f.ox+f.cap[0]*sx).toFixed(1),y:(f.oy+f.cap[1]*f.sy).toFixed(1),'text-anchor':'middle','font-family':'"Liberation Serif",serif','font-size':'50',fill:'#111'},root);
  
  
  cap.appendChild(document.createTextNode('('));
  const bold=mk('tspan',{'font-weight':'bold'},cap);
  bold.textContent=f.id;
  cap.appendChild(document.createTextNode(')'));
});
</script>
</body>
</html>
